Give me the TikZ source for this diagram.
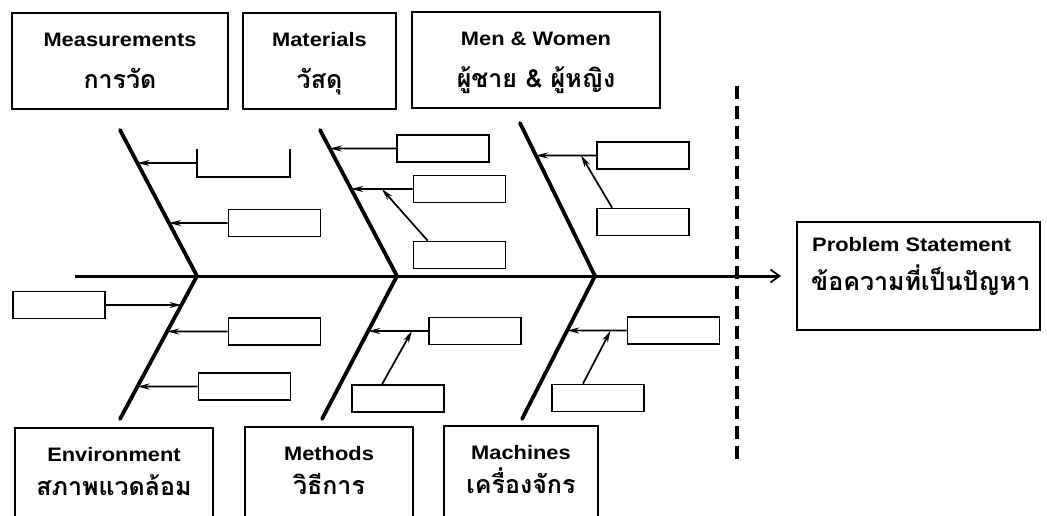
\documentclass[tikz,border=0pt]{standalone}
\usepackage{fontspec}
\setmainfont{Liberation Sans}[FakeStretch=1.12]
\newfontfamily\thaifont[Script=Thai]{Loma}
\usetikzlibrary{arrows.meta,calc}

\tikzset{
  catbox/.style={draw, line width=2pt, inner sep=0pt},
  entext/.style={anchor=base, inner sep=0pt, font=\fontsize{19.5}{21}\selectfont\bfseries},
  thtext/.style={anchor=base, inner sep=0pt, font=\thaifont\bfseries\fontsize{25}{25}\selectfont},
  smallbox/.style={draw, line width=1.7pt, minimum width=92pt, minimum height=27pt, inner sep=0pt},
  bone/.style={line width=3.8pt, line join=round, line cap=round},
  twig/.style={line width=1.7pt, -{Stealth[length=12pt,width=6pt]}},
  spine/.style={line width=3pt, -{Straight Barb[length=9pt,width=13pt,line width=1.8pt]}},
  divider/.style={line width=4.5pt, dash pattern=on 13pt off 7pt},
}

\begin{document}
\begin{tikzpicture}[x=1pt,y=-1pt]
\useasboundingbox (0,0) rectangle (1047,516);
\clip (0,0) rectangle (1047,516);

% category boxes above the spine
\node[catbox, minimum width=216pt, minimum height=96pt] (meas) at (120,61) {};
\node[catbox, minimum width=153pt, minimum height=96pt] (mat) at (319.5,61) {};
\node[catbox, minimum width=248pt, minimum height=96pt] (men) at (536,60) {};
\node[entext] (measEn) at ([yshift=-35pt]meas.north) {Measurements};
\node[thtext] (measTh) at ([yshift=-76.5pt]meas.north) {การวัด};
\node[entext] (matEn) at ([yshift=-35pt]mat.north) {Materials};
\node[thtext] (matTh) at ([yshift=-76.5pt]mat.north) {วัสดุ};
\node[entext] (menEn) at ([yshift=-35pt]men.north) {Men \& Women};
\node[thtext] (menTh) at ([yshift=-76.5pt]men.north) {ผู้ชาย \& ผู้หญิง};

% category boxes below the spine (they run on past the lower edge)
\node[catbox, minimum width=198pt, minimum height=130pt, anchor=north] (env) at (114,427) {};
\node[catbox, minimum width=168pt, minimum height=130pt, anchor=north] (meth) at (329,426) {};
\node[catbox, minimum width=154pt, minimum height=130pt, anchor=north] (mach) at (521,425) {};
\node[entext] (envEn) at ([yshift=-34pt]env.north) {Environment};
\node[thtext] (envTh) at ([yshift=-68.5pt]env.north) {สภาพแวดล้อม};
\node[entext] (methEn) at ([yshift=-34pt]meth.north) {Methods};
\node[thtext] (methTh) at ([yshift=-68.5pt]meth.north) {วิธีการ};
\node[entext] (machEn) at ([yshift=-34pt]mach.north) {Machines};
\node[thtext] (machTh) at ([yshift=-68.5pt]mach.north) {เครื่องจักร};

% problem statement
\node[catbox, minimum width=243pt, minimum height=108pt] (ps) at (918.5,276) {};
\node[entext, anchor=base west] (psEn) at ([xshift=16pt,yshift=-30pt]ps.north west) {Problem Statement};
\node[thtext, anchor=base west] (psTh) at ([xshift=15pt,yshift=-69pt]ps.north west) {ข้อความที่เป็นปัญหา};

% spine and bones
\coordinate (tail) at (75,276);
\draw[spine, shorten >=15pt] (tail) -- (ps.west |- tail);

\coordinate (t1) at (120,130); \coordinate (j1) at (197,276); \coordinate (b1) at (120,419);
\coordinate (t2) at (320,130); \coordinate (j2) at (397,276); \coordinate (b2) at (322,419);
\coordinate (t3) at (520,123); \coordinate (j3) at (595,276); \coordinate (b3) at (522,419);
\draw[bone] (t1) -- (j1) -- (b1);
\draw[bone] (t2) -- (j2) -- (b2);
\draw[bone] (t3) -- (j3) -- (b3);

% dashed divider
\coordinate (dtop) at (737,86);
\coordinate (dbot) at (737,466);
\draw[divider] (dtop) -- (dbot);

% cause boxes
\node[minimum width=93pt, minimum height=28pt, inner sep=0pt] (m1) at (243.5,163) {};
\draw[line width=1.7pt] (m1.north west) -- (m1.south west) -- (m1.south east) -- (m1.north east);
\node[smallbox] (m2) at (274.5,223) {};
\node[smallbox] (a1) at (443,148.5) {};
\node[smallbox] (a2) at (459.5,189) {};
\node[smallbox] (a3) at (459.5,255) {};
\node[smallbox] (w1) at (643,155.5) {};
\node[smallbox] (w2) at (643,222) {};
\node[smallbox] (e1) at (59,305) {};
\node[smallbox] (e2) at (274.5,331.5) {};
\node[smallbox] (e3) at (244.5,386.5) {};
\node[smallbox] (d1) at (475,331) {};
\node[smallbox] (d2) at (398,398.5) {};
\node[smallbox] (c1) at (673.5,330.5) {};
\node[smallbox] (c2) at (598,398) {};

% points where the causes meet their bones
\coordinate (pm1) at (intersection of t1--j1 and m1.west--m1.east);
\coordinate (pm2) at (intersection of t1--j1 and m2.west--m2.east);
\coordinate (pa1) at (intersection of t2--j2 and a1.west--a1.east);
\coordinate (pa2) at (intersection of t2--j2 and a2.west--a2.east);
\coordinate (pw1) at (intersection of t3--j3 and w1.west--w1.east);
\coordinate (pe1) at (intersection of j1--b1 and e1.west--e1.east);
\coordinate (pe2) at (intersection of j1--b1 and e2.west--e2.east);
\coordinate (pe3) at (intersection of j1--b1 and e3.west--e3.east);
\coordinate (pd1) at (intersection of j2--b2 and d1.west--d1.east);
\coordinate (pc1) at (intersection of j3--b3 and c1.west--c1.east);

\draw[twig] (m1.west) -- (pm1);
\draw[twig] (m2.west) -- (pm2);
\draw[twig] (a1.west) -- (pa1);
\draw[twig] (a2.west) -- (pa2);
\draw[twig] (w1.west) -- (pw1);
\draw[twig] (e1.east) -- (pe1);
\draw[twig] (e2.west) -- (pe2);
\draw[twig] (e3.west) -- (pe3);
\draw[twig] (d1.west) -- (pd1);
\draw[twig] (c1.west) -- (pc1);

% sub-causes feeding the cause lines
\draw[twig] ($(a3.north west)!0.16!(a3.north east)$) -- ($(pa2)!0.5!(a2.west)$);
\draw[twig] ($(w2.north west)!0.17!(w2.north east)$) -- ($(pw1)!0.75!(w1.west)$);
\draw[twig] ($(d2.north west)!0.33!(d2.north east)$) -- ($(pd1)!0.73!(d1.west)$);
\draw[twig] ($(c2.north west)!0.34!(c2.north east)$) -- ($(pc1)!0.73!(c1.west)$);
\end{tikzpicture}
\end{document}
